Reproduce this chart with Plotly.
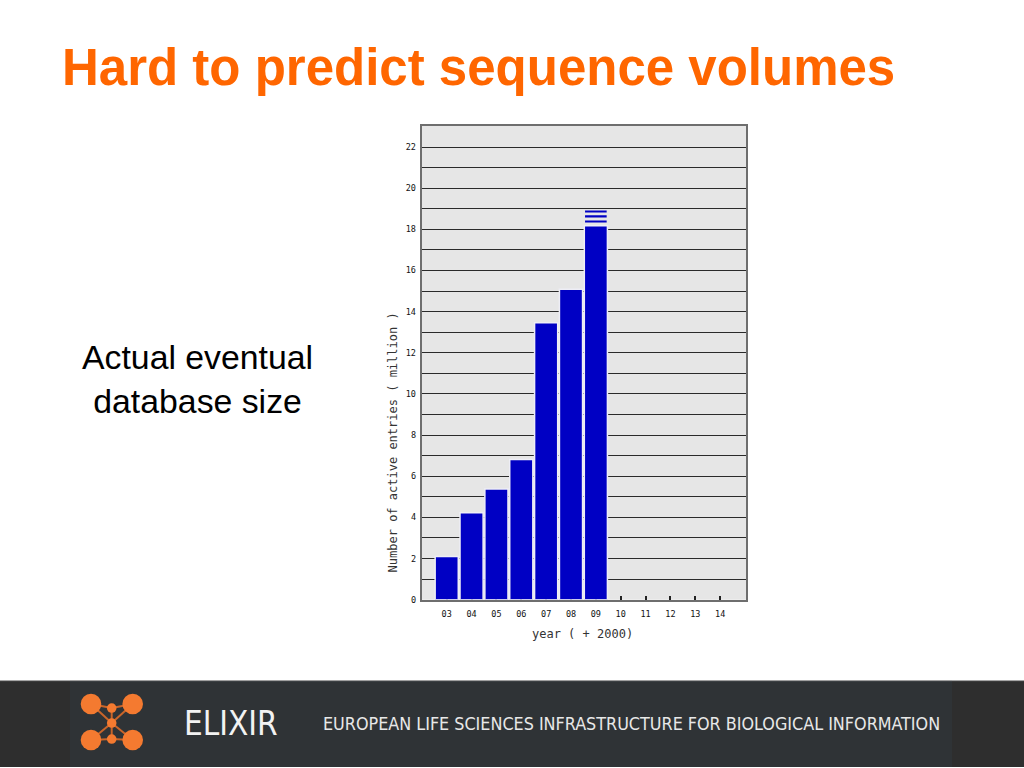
import plotly.graph_objects as go

# ---- data ----
years = ["03", "04", "05", "06", "07", "08", "09", "10", "11", "12", "13", "14"]
entries_million = [2.10, 4.23, 5.38, 6.82, 13.46, 15.09, 18.17, None, None, None, None, None]
# projected (striped) part on top of the 2009 bar: stripe bottoms and tops
stripe_years = ["09", "09", "09"]
stripe_bottom = [18.33, 18.58, 18.82]
stripe_top = [18.43, 18.68, 18.92]
y_tick_vals = [0, 2, 4, 6, 8, 10, 12, 14, 16, 18, 20, 22]
y_tick_text = ["0", "2", "4", "6", "8", "10", "12", "14", "16", "18", "20", "22"]

title_text = "Hard to predict sequence volumes"
side_text = "Actual eventual<br>database size"
y_title = "Number of active entries ( million )"
x_title = "year ( + 2000)"

W, H = 1024, 768          # layout reference frame (pixels of the slide)
FIG_H = 772               # figure height (compensates viewport scaling)
def px(x):
    return x / W
def py(y):
    return 1 - y / H

BLUE = "#0000c4"
MONO = "DejaVu Sans Mono, monospace"
NARROW = "Liberation Sans Narrow, DejaVu Sans Condensed, Arial Narrow, sans-serif"

fig = go.Figure()
fig.add_trace(go.Bar(
    x=years, y=entries_million, width=0.93,
    marker=dict(color=BLUE, line=dict(color="#eeeef6", width=1.5)),
    hoverinfo="x+y", showlegend=False,
))
fig.add_trace(go.Bar(
    x=stripe_years,
    y=[t - b for t, b in zip(stripe_top, stripe_bottom)],
    base=stripe_bottom, width=0.87,
    marker=dict(color=BLUE, line=dict(width=0)),
    showlegend=False,
))

fig.update_layout(
    width=W, height=FIG_H,
    margin=dict(l=0, r=0, t=0, b=0),
    paper_bgcolor="white",
    plot_bgcolor="#e6e6e6",
    barmode="overlay",
    xaxis=dict(
        domain=[px(421.7), px(746)],
        type="category",
        categoryorder="array", categoryarray=years,
        range=[-1.006, 12.04],
        showgrid=False,
        ticks="inside", ticklen=4, tickwidth=1.5, tickcolor="#222",
        ticklabelstandoff=5,
        tickfont=dict(family=MONO, size=8.5, color="#111"),
        showline=True, linecolor="#6e6e6e", linewidth=2, mirror=True,
        layer="below traces",
        zeroline=False, fixedrange=True,
    ),
    yaxis=dict(
        domain=[py(600.5), py(126)],
        range=[0, 23.03],
        tickmode="array", tickvals=y_tick_vals, ticktext=y_tick_text,
        ticks="", ticklabelstandoff=2,
        tickfont=dict(family=MONO, size=8.5, color="#111"),
        showgrid=True, gridcolor="#2a2a2a", gridwidth=1.3,
        minor=dict(dtick=1, tick0=0, showgrid=True, gridcolor="#2a2a2a", gridwidth=1.3),
        showline=True, linecolor="#6e6e6e", linewidth=2, mirror=True,
        zeroline=False, fixedrange=True,
    ),
)

annotations = [
    dict(text=title_text, x=px(60), y=py(67.5), xanchor="left", yanchor="middle",
         font=dict(family="Liberation Sans, Arial, sans-serif", size=51, color="#ff6600", weight="bold")),
    dict(text=side_text, x=px(197.5), y=py(379), xanchor="center", yanchor="middle", align="center",
         font=dict(family="Liberation Sans, Arial, sans-serif", size=33.8, color="#000000")),
    dict(text=y_title, x=px(393), y=py(443), xanchor="center", yanchor="middle", textangle=-90,
         font=dict(family=MONO, size=12, color="#333")),
    dict(text=x_title, x=px(582.5), y=py(635), xanchor="center", yanchor="middle",
         font=dict(family=MONO, size=12, color="#333")),
    dict(text="ELIXIR", x=px(231), y=py(724.5), xanchor="center", yanchor="middle",
         font=dict(family=NARROW, size=33, color="#f2f2f2")),
    dict(text="EUROPEAN LIFE SCIENCES INFRASTRUCTURE FOR BIOLOGICAL INFORMATION",
         x=px(321), y=py(724), xanchor="left", yanchor="middle",
         font=dict(family=NARROW, size=17.8, color="#e8e8e8")),
]
for a in annotations:
    a.update(xref="paper", yref="paper", showarrow=False)
fig.update_layout(annotations=annotations)

shapes = []
# footer band
shapes.append(dict(type="rect", x0=0, x1=1, y0=0, y1=py(681.5), fillcolor="#2e2e2e", line=dict(width=0)))
shapes.append(dict(type="rect", x0=px(70), x1=px(952), y0=0, y1=py(681.5), fillcolor="#2f3336", line=dict(width=0)))
shapes.append(dict(type="line", x0=0, x1=1, y0=py(681.5), y1=py(681.5), line=dict(color="#a8a8a8", width=1)))
# logo
ORANGE = "#f47a30"
LINK = "#c9652a"
big = [(91, 705), (132.7, 705), (91, 741), (132.7, 741)]
small = [(111.7, 709), (111.7, 724), (111.7, 740)]
cx, cy = small[1]
for (bx, by) in big:
    shapes.append(dict(type="line", x0=px(bx), y0=py(by), x1=px(cx), y1=py(cy), line=dict(color=LINK, width=2)))
for (bx, by) in big[:2]:
    shapes.append(dict(type="line", x0=px(bx), y0=py(by), x1=px(small[0][0]), y1=py(small[0][1]), line=dict(color=LINK, width=2)))
for (bx, by) in big[2:]:
    shapes.append(dict(type="line", x0=px(bx), y0=py(by), x1=px(small[2][0]), y1=py(small[2][1]), line=dict(color=LINK, width=2)))
shapes.append(dict(type="line", x0=px(small[0][0]), y0=py(small[0][1]), x1=px(small[2][0]), y1=py(small[2][1]), line=dict(color=LINK, width=2)))
for (bx, by) in big:
    r = 10.3
    shapes.append(dict(type="circle", x0=px(bx - r), x1=px(bx + r), y0=py(by + r), y1=py(by - r), fillcolor=ORANGE, line=dict(width=0)))
for (sx, sy) in small:
    r = 4.8
    shapes.append(dict(type="circle", x0=px(sx - r), x1=px(sx + r), y0=py(sy + r), y1=py(sy - r), fillcolor=ORANGE, line=dict(width=0)))
for s in shapes:
    s.update(xref="paper", yref="paper", layer="above")
fig.update_layout(shapes=shapes)

fig.write_html(
    "out.html",
    config={"displayModeBar": False},
    post_script="document.body.style.margin='0';document.body.style.overflow='hidden';",
)
